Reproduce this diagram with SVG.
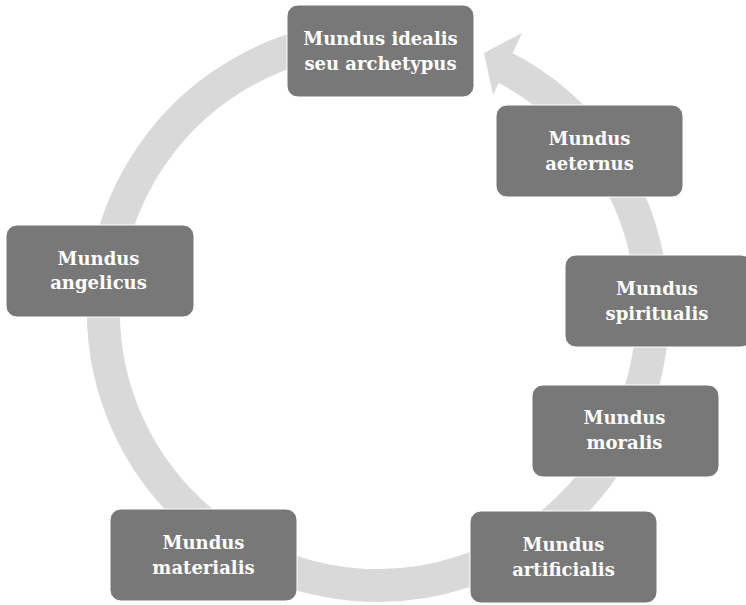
<svg xmlns="http://www.w3.org/2000/svg" width="746" height="605" viewBox="0 0 746 605">
  <style>
    .ring { fill: none; stroke: #d9d9d9; stroke-width: 33; stroke-linecap: butt; }
    .head { fill: #d9d9d9; }
    .box { fill: #787878; stroke: #ffffff; stroke-width: 1; }
    .lbl { fill: #ffffff; font-family: "DejaVu Serif", "Liberation Serif", serif; font-weight: bold; font-size: 18px; text-anchor: middle; }
  </style>
  <rect width="746" height="605" fill="#ffffff"/>
  <g id="connectors">
    <path class="ring" d="M 354.1 37.5 A 274.5 274.5 0 1 0 500.5 65.4"/>
    <polygon class="head" points="484,53 522,33 493,95"/>
  </g>
  <g id="idealis">
    <rect class="box" x="287" y="5" width="187" height="92" rx="11"/>
    <text class="lbl" x="380.5" y="45">Mundus idealis</text>
    <text class="lbl" x="380.5" y="70">seu archetypus</text>
  </g>
  <g id="aeternus">
    <rect class="box" x="496" y="105" width="187" height="92" rx="11"/>
    <text class="lbl" x="589.5" y="145">Mundus</text>
    <text class="lbl" x="589.5" y="170">aeternus</text>
  </g>
  <g id="spiritualis">
    <rect class="box" x="565" y="255" width="187" height="92" rx="11"/>
    <text class="lbl" x="657" y="295">Mundus</text>
    <text class="lbl" x="657" y="320">spiritualis</text>
  </g>
  <g id="moralis">
    <rect class="box" x="532" y="385" width="187" height="92" rx="11"/>
    <text class="lbl" x="624.5" y="424">Mundus</text>
    <text class="lbl" x="624.5" y="449">moralis</text>
  </g>
  <g id="artificialis">
    <rect class="box" x="470" y="511" width="187" height="92" rx="11"/>
    <text class="lbl" x="563.5" y="551">Mundus</text>
    <text class="lbl" x="563.5" y="576">artificialis</text>
  </g>
  <g id="materialis">
    <rect class="box" x="110" y="509" width="187" height="92" rx="11"/>
    <text class="lbl" x="203.5" y="549">Mundus</text>
    <text class="lbl" x="203.5" y="574">materialis</text>
  </g>
  <g id="angelicus">
    <rect class="box" x="6" y="225" width="188" height="92" rx="11"/>
    <text class="lbl" x="98.5" y="264.5">Mundus</text>
    <text class="lbl" x="98.5" y="289">angelicus</text>
  </g>
</svg>
